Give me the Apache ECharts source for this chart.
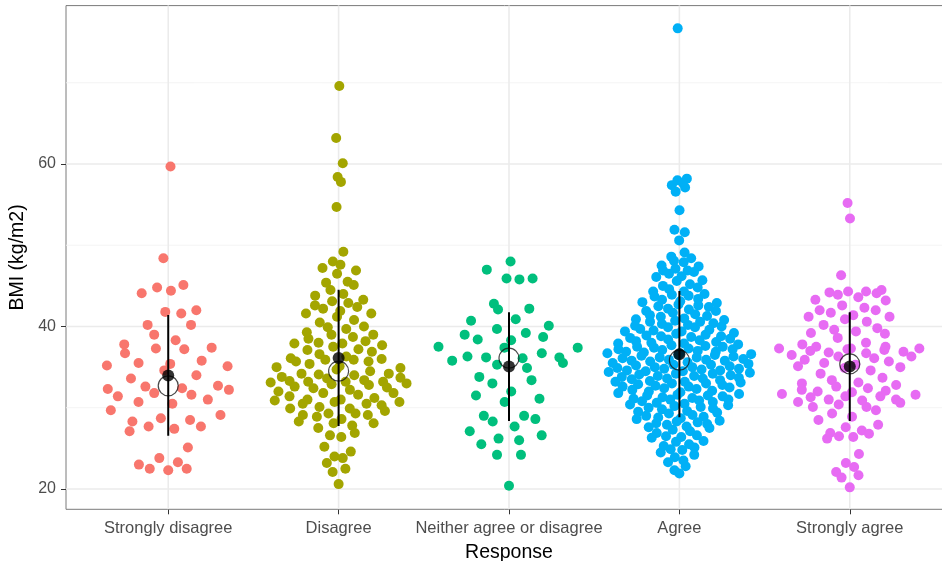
<!DOCTYPE html>
<html>
<head>
<meta charset="utf-8">
<script src="https://cdn.jsdelivr.net/npm/echarts@6/dist/echarts.min.js"></script>
<style>
  html, body { margin: 0; padding: 0; background: #ffffff; }
  #chart { width: 942px; height: 561px; }
</style>
</head>
<body>
<div id="chart"></div>
<script>
// Response categories and their colours
const responses = ['Strongly disagree', 'Disagree', 'Neither agree or disagree', 'Agree', 'Strongly agree'];
const groupColors = ['#F8766D', '#A3A500', '#00BF7D', '#00B0F6', '#E76BF3'];

// BMI (kg/m2) of each respondent, by response
const bmiStronglyDisagree = [59.7, 48.4, 45.1, 44.8, 44.4, 44.1, 42.0, 41.8, 41.6, 40.2, 40.2, 39.0, 38.3, 37.8,
  37.4, 37.3, 37.2, 36.7, 35.8, 35.5, 35.4, 35.2, 35.1, 34.6, 34.0, 33.6, 32.7, 32.6, 32.4, 32.3, 32.2, 31.8,
  31.6, 31.4, 31.0, 30.7, 30.5, 29.7, 29.1, 28.5, 28.7, 28.3, 27.7, 27.7, 27.4, 27.1, 25.1, 23.8, 23.3, 23.0,
  22.5, 22.5, 22.3];

const bmiDisagree = [69.6, 63.2, 60.1, 58.4, 57.8, 54.7, 49.2, 48.0, 47.6, 47.2, 46.5, 46.9, 45.5, 44.5, 45.4,
  45.1, 43.3, 42.2, 41.2, 42.9, 41.6, 43.1, 42.4, 41.6, 40.5, 39.9, 40.0, 39.7, 38.7, 38.5, 39.0, 39.0, 37.9,
  37.5, 37.9, 37.2, 37.1, 37.7, 36.6, 35.9, 35.7, 35.9, 35.7, 36.1, 35.1, 34.7, 34.2, 34.2, 34.0, 33.4, 33.0,
  33.2, 33.3, 33.1, 33.2, 32.9, 33.8, 33.2, 32.8, 33.7, 32.2, 32.0, 31.8, 32.4, 31.6, 31.8, 31.4, 30.7, 31.0,
  30.5, 30.5, 31.0, 30.7, 30.3, 29.9, 29.9, 29.3, 29.1, 29.1, 29.3, 28.9, 28.3, 28.1, 28.1, 27.5, 26.9, 26.4,
  26.6, 25.2, 24.6, 24.0, 23.8, 23.2, 22.5, 22.1, 20.6, 44.0, 43.8, 42.6, 41.9, 40.8, 39.3, 38.2, 38.0, 36.9,
  36.3, 35.4, 34.9, 34.5, 34.1, 33.6, 32.6, 31.2, 30.9, 30.1, 29.6, 28.6, 27.8, 36.0, 35.0, 32.5];

const bmiNeither = [48.0, 47.0, 45.9, 45.9, 45.8, 42.1, 42.2, 42.8, 40.7, 40.9, 39.7, 38.7, 37.4, 40.1, 39.2,
  38.4, 38.3, 39.0, 37.4, 37.5, 36.7, 35.8, 36.1, 36.2, 36.3, 36.2, 35.5, 34.9, 35.3, 33.8, 33.4, 33.0, 32.0,
  31.1, 30.7, 29.0, 28.3, 27.1, 26.2, 29.0, 27.7, 26.0, 25.5, 24.2, 24.2, 20.4, 28.6, 26.6, 31.5];

const bmiAgree = [76.7, 58.2, 58.0, 57.7, 57.4, 57.1, 56.6, 54.3, 51.9, 51.6, 50.6, 49.1,
  48.6, 48.4, 48.1, 47.9, 47.5, 47.4, 47.1, 46.9, 46.9, 46.7,
  46.5, 46.2, 46.1, 45.7, 45.6, 45.2, 45.0, 44.8, 44.6, 44.3, 44.3, 44.0, 43.9, 43.8,
  43.7, 43.4, 43.3, 43.0, 42.9, 42.7, 42.6, 42.4, 42.2, 42.1, 41.9, 41.9, 41.7, 41.5, 41.4, 41.3, 41.2, 41.0,
  42.5, 43.1,
  40.9, 40.8, 40.6, 40.6, 40.4, 40.2, 40.1, 39.9, 39.9, 39.7, 39.6, 39.4, 39.4, 39.2, 39.1, 38.9, 38.8, 38.7,
  38.6, 38.5, 40.7, 39.5, 39.0, 40.3, 38.8, 40.0,
  38.4, 38.1, 37.9, 37.9, 37.6, 37.5, 37.2, 37.2, 37.0, 36.9, 36.7, 36.7, 36.5, 36.3, 36.2, 36.1, 35.9, 35.8,
  35.8, 35.6, 38.3, 37.7, 37.4, 37.1, 36.8, 36.4, 36.0, 35.7, 38.2, 37.3, 36.6, 35.9, 37.8, 36.9, 36.2, 38.0,
  37.5, 36.5,
  35.5, 35.3, 35.3, 35.1, 35.0, 34.8, 34.8, 34.6, 34.5, 34.4, 34.2, 34.1, 34.0, 33.9, 33.7, 33.6, 33.5, 33.3,
  33.2, 33.1, 33.0, 32.9, 32.8, 35.4, 34.9, 34.5, 34.2, 33.6, 33.2, 35.0, 34.3, 33.8, 33.4, 35.2, 34.7, 33.9,
  33.0, 34.6,
  32.7, 32.6, 32.4, 32.3, 32.2, 32.0, 31.9, 31.8, 31.6, 31.5, 31.4, 31.2, 31.1, 31.0, 30.8, 30.7, 30.5, 30.4,
  30.3, 30.1, 30.0, 29.9, 32.5, 31.7, 31.3, 30.9, 30.6, 32.1, 31.0, 30.2, 32.6, 31.5,
  29.8, 29.6, 29.4, 29.3, 29.0, 28.9, 28.7, 28.6, 28.4, 28.2, 28.0, 27.9, 27.7, 27.5, 27.3, 27.1, 29.5, 28.8,
  28.1, 27.6, 29.1, 28.3,
  26.9, 26.6, 26.4, 26.3, 25.9, 25.8, 25.5, 25.1, 24.9, 24.8, 24.5, 24.2, 26.5, 25.3,
  23.9, 23.5, 23.3, 22.8, 22.3, 21.9];

const bmiStronglyAgree = [55.2, 53.3, 46.3, 44.1, 44.3, 43.9, 44.5, 44.3, 42.6, 42.0, 43.3, 43.2, 41.4, 42.0,
  41.2, 40.2, 41.2, 40.9, 39.8, 39.4, 39.2, 39.1, 37.3, 36.9, 37.3, 37.5, 36.3, 34.6, 37.1, 37.5, 37.3, 35.7,
  36.5, 35.9, 36.3, 35.5, 35.1, 33.7, 31.9, 32.8, 33.0, 31.4, 31.0, 31.3, 30.1, 32.4, 31.4, 30.1, 32.0, 31.0,
  29.7, 32.2, 30.7, 30.6, 28.9, 27.9, 27.2, 26.5, 26.4, 26.2, 26.9, 24.3, 22.1, 22.7, 21.4, 23.2, 21.7, 20.2,
  44.2, 43.6, 42.3, 41.7, 40.6, 39.6, 38.6, 38.0, 37.8, 37.0, 36.7, 36.1, 35.3, 34.9, 34.2, 33.4, 32.6, 31.7,
  30.9, 30.4, 29.3, 28.5, 27.6, 26.8, 36.8, 37.2, 31.6, 32.1, 35.0, 33.1];

// Axis values
const yTickValues = [20, 40, 60];
const yGridValues = [20, 30, 40, 50, 60, 70];
const xRange = [0.4, 5.6];
const yRange = [17.5, 79.5];

const groups = [bmiStronglyDisagree, bmiDisagree, bmiNeither, bmiAgree, bmiStronglyAgree];

// ---- summary statistics ----
function sortedCopy(a) { return a.slice().sort((p, q) => p - q); }
function mean(a) { return a.reduce((s, v) => s + v, 0) / a.length; }
function sdev(a) {
  const m = mean(a);
  return Math.sqrt(a.reduce((s, v) => s + (v - m) * (v - m), 0) / (a.length - 1));
}
function quantile(sorted, p) {
  const h = (sorted.length - 1) * p;
  const lo = Math.floor(h), hi = Math.ceil(h);
  return sorted[lo] + (h - lo) * (sorted[hi] - sorted[lo]);
}

// ---- quasirandom (van der Corput) horizontal spread, scaled by kernel density ----
function vanDerCorput(n) {
  let v = 0, denom = 1;
  while (n > 0) { denom *= 2; v += (n % 2) / denom; n = Math.floor(n / 2); }
  return v;
}
function bandwidthNrd0(a) {
  const s = sortedCopy(a);
  const hi = sdev(a);
  const iqr = quantile(s, 0.75) - quantile(s, 0.25);
  let lo = Math.min(hi, iqr / 1.34);
  if (!lo) lo = hi || Math.abs(s[0]) || 1;
  return 0.9 * lo * Math.pow(a.length, -0.2);
}
function kernelDensity(a, h, x) {
  let s = 0;
  for (const v of a) { const z = (x - v) / h; s += Math.exp(-0.5 * z * z); }
  return s / (a.length * h * Math.sqrt(2 * Math.PI));
}
function quasirandomOffsets(vals, width, adjust) {
  const n = vals.length;
  const h = bandwidthNrd0(vals) * adjust;
  const lo = Math.min(...vals) - 3 * h, hi = Math.max(...vals) + 3 * h;
  let maxD = 0;
  for (let k = 0; k < 512; k++) {
    maxD = Math.max(maxD, kernelDensity(vals, h, lo + (hi - lo) * k / 511));
  }
  const order = vals.map((v, i) => i).sort((a, b) => (vals[a] - vals[b]) || (a - b));
  const rank = new Array(n);
  order.forEach((idx, r) => { rank[idx] = r + 1; });
  return vals.map((v, i) => (vanDerCorput(rank[i]) - 0.5) * 2 * width * kernelDensity(vals, h, v) / maxD);
}

const stats = groups.map(g => {
  const s = sortedCopy(g);
  return { mean: mean(g), sd: sdev(g), median: quantile(s, 0.5) };
});

const FONT = 'Liberation Sans';

// panel grid lines (drawn beneath the points)
const gridLineSeries = [
  ...yGridValues.map(v => ({
    type: 'line',
    data: [[xRange[0], v], [xRange[1], v]],
    symbol: 'none',
    silent: true,
    z: 1,
    lineStyle: yTickValues.includes(v) ? { color: '#EBEBEB', width: 1.6 } : { color: '#F3F3F3', width: 0.9 }
  })),
  ...responses.map((r, i) => ({
    type: 'line',
    data: [[i + 1, yRange[0]], [i + 1, yRange[1]]],
    symbol: 'none',
    silent: true,
    z: 1,
    lineStyle: { color: '#EBEBEB', width: 1.6 }
  }))
];

const pointSeries = groups.map((vals, gi) => {
  const off = quasirandomOffsets(vals, 0.44, 0.5);
  return {
    type: 'scatter',
    name: responses[gi],
    data: vals.map((v, i) => [gi + 1 + off[i], v]),
    symbol: 'circle',
    symbolSize: 10,
    itemStyle: { color: groupColors[gi], opacity: 1 },
    silent: true,
    z: 2
  };
});

const medianSeries = {
  type: 'scatter',
  data: stats.map((s, i) => [i + 1, s.median]),
  symbol: 'circle',
  symbolSize: 20,
  itemStyle: { color: 'rgba(0,0,0,0)', borderColor: '#1a1a1a', borderWidth: 1.2 },
  silent: true,
  z: 3
};

// mean ± SD ranges
const errorBarSeries = stats.map((s, i) => ({
  type: 'line',
  data: [[i + 1, s.mean - s.sd], [i + 1, s.mean + s.sd]],
  symbol: 'none',
  silent: true,
  z: 4,
  lineStyle: { color: '#000000', width: 2 }
}));

const meanSeries = {
  type: 'scatter',
  data: stats.map((s, i) => [i + 1, s.mean]),
  symbol: 'circle',
  symbolSize: 12,
  itemStyle: { color: '#000000' },
  silent: true,
  z: 5
};

const chart = echarts.init(document.getElementById('chart'), null, { renderer: 'canvas' });
chart.setOption({
  animation: false,
  backgroundColor: '#ffffff',
  textStyle: { fontFamily: FONT },
  grid: {
    left: 66, top: 5.6, width: 886, height: 503.7,
    containLabel: false,
    outerBoundsMode: 'none',
    show: true, borderColor: '#7a7a7a', borderWidth: 1, backgroundColor: '#ffffff'
  },
  xAxis: {
    type: 'value',
    min: xRange[0], max: xRange[1],
    name: 'Response',
    nameLocation: 'middle',
    nameGap: 32,
    nameTextStyle: { color: '#000000', fontSize: 19.5, fontFamily: FONT, verticalAlign: 'top' },
    axisLine: { show: false },
    splitLine: { show: false },
    axisTick: { show: true, length: 5, customValues: [1, 2, 3, 4, 5], lineStyle: { color: '#333333', width: 1 } },
    axisLabel: {
      customValues: [1, 2, 3, 4, 5],
      formatter: v => responses[Math.round(v) - 1],
      color: '#4D4D4D', fontSize: 16.5, fontFamily: FONT, margin: 11
    }
  },
  yAxis: {
    type: 'value',
    min: yRange[0], max: yRange[1],
    name: 'BMI (kg/m2)',
    nameLocation: 'middle',
    nameGap: 31,
    nameRotate: 90,
    nameTextStyle: { color: '#000000', fontSize: 19.5, fontFamily: FONT },
    axisLine: { show: false },
    splitLine: { show: false },
    axisTick: { show: true, length: 5, customValues: yTickValues, lineStyle: { color: '#333333', width: 1 } },
    axisLabel: {
      customValues: yTickValues,
      color: '#4D4D4D', fontSize: 16, fontFamily: FONT, margin: 10
    }
  },
  series: [...gridLineSeries, ...pointSeries, medianSeries, ...errorBarSeries, meanSeries]
});
</script>
</body>
</html>
